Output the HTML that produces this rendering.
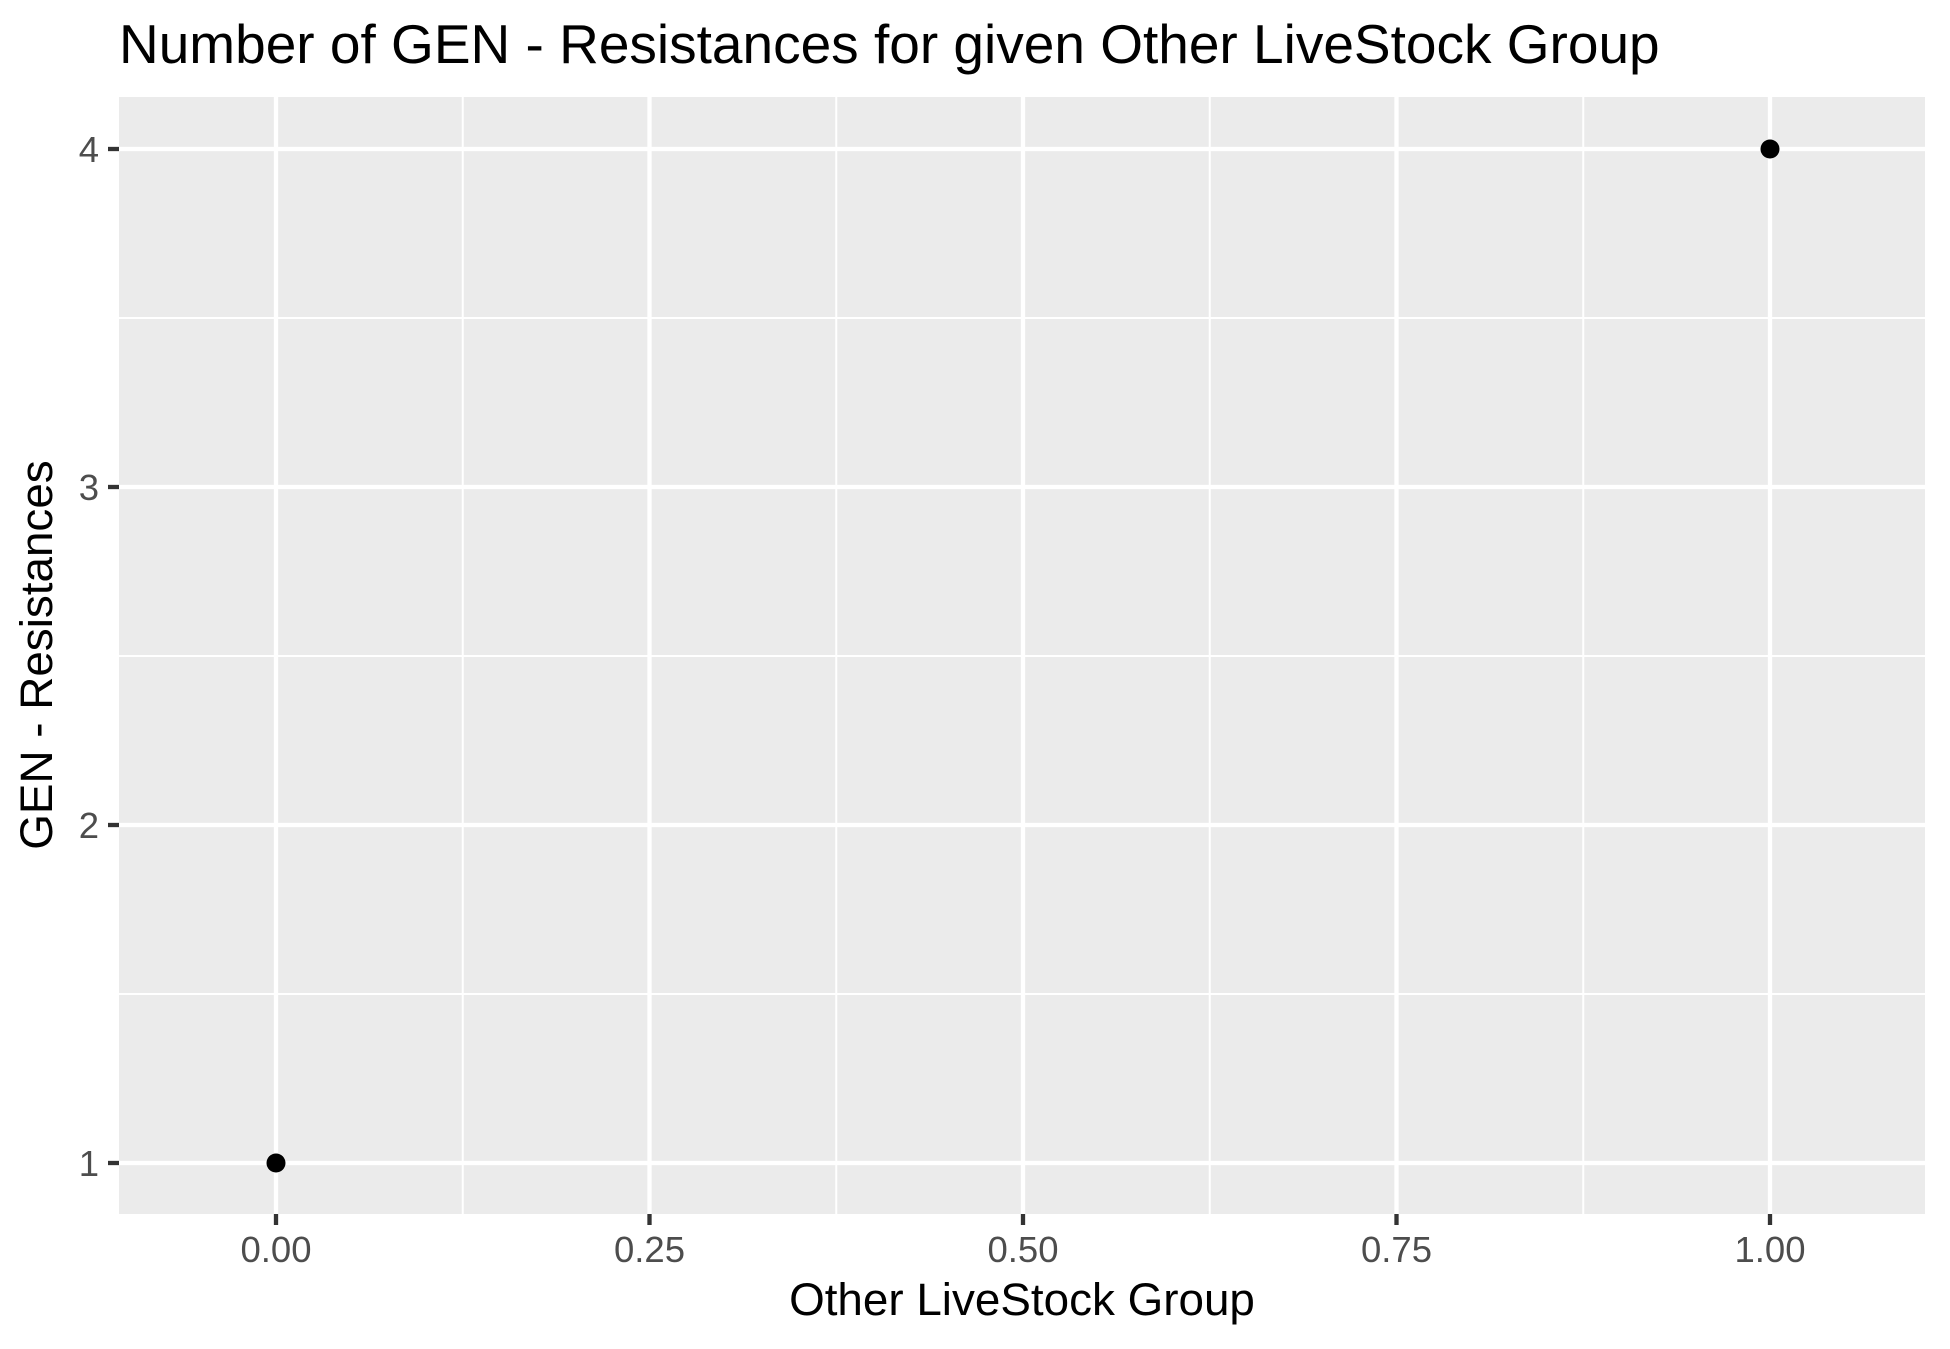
<!DOCTYPE html>
<html><head><meta charset="utf-8"><style>
html,body{margin:0;padding:0;background:#fff;}
svg{display:block;font-family:"Liberation Sans",Arial,sans-serif;}
</style></head><body>
<svg id="chart" width="1950" height="1349" viewBox="0 0 1950 1349" xmlns="http://www.w3.org/2000/svg">
<rect width="1950" height="1349" fill="#fff"/>
<text x="119" y="63" font-size="55" fill="#000">Number of GEN - Resistances for given Other LiveStock Group</text>
<rect x="119" y="97" width="1806" height="1117" fill="#EBEBEB"/>
<g id="grid"></g>
<g id="axes"></g>
<g id="points"></g>
<text x="1022" y="1315" font-size="45.8" text-anchor="middle" fill="#000">Other LiveStock Group</text>
<text transform="translate(52,655) rotate(-90)" font-size="45.8" text-anchor="middle" fill="#000">GEN - Resistances</text>
</svg>
<script>
const xValues = [0, 1];
const yValues = [1, 4];
const xTicks = [0, 0.25, 0.5, 0.75, 1];
const xTickLabels = ["0.00", "0.25", "0.50", "0.75", "1.00"];
const xMinor = [0.125, 0.375, 0.625, 0.875];
const yTicks = [1, 2, 3, 4];
const yTickLabels = ["1", "2", "3", "4"];
const yMinor = [1.5, 2.5, 3.5];

const NS = "http://www.w3.org/2000/svg";
const L = 119, R = 1925, T = 97, B = 1214;
function sx(v){ return 276 + v * 1494; }
function sy(v){ return 1163 - (v - 1) * 338; }
function mk(tag, attrs, parent){
  const e = document.createElementNS(NS, tag);
  for (const k in attrs) e.setAttribute(k, attrs[k]);
  parent.appendChild(e); return e;
}
const grid = document.getElementById('grid');
const axes = document.getElementById('axes');
const pts = document.getElementById('points');

xMinor.forEach(v => {
  const l = mk('line', {x1: sx(v), x2: sx(v), y1: T, y2: B, stroke: '#fff', 'stroke-width': 2}, grid);
  
  
});
yMinor.forEach(v => {
  const l = mk('line', {x1: L, x2: R, y1: sy(v), y2: sy(v), stroke: '#fff', 'stroke-width': 2}, grid);
  
  
});
xTicks.forEach((v, i) => {
  const l = mk('line', {x1: sx(v), x2: sx(v), y1: T, y2: B, stroke: '#fff', 'stroke-width': 4.3}, grid);
  
  
  const t = mk('line', {x1: sx(v), x2: sx(v), y1: B, y2: B + 11, stroke: '#333', 'stroke-width': 4.3}, axes);
  
  
  const tx = mk('text', {x: sx(v), y: 1262, 'font-size': 36.5, 'text-anchor': 'middle', fill: '#4D4D4D'}, axes);
  tx.textContent = xTickLabels[i];
  
  
});
yTicks.forEach((v, i) => {
  const l = mk('line', {x1: L, x2: R, y1: sy(v), y2: sy(v), stroke: '#fff', 'stroke-width': 4.3}, grid);
  
  
  const t = mk('line', {x1: L - 11, x2: L, y1: sy(v), y2: sy(v), stroke: '#333', 'stroke-width': 4.3}, axes);
  
  
  const tx = mk('text', {x: 99, y: sy(v) + 13, 'font-size': 36.5, 'text-anchor': 'end', fill: '#4D4D4D'}, axes);
  tx.textContent = yTickLabels[i];
  
  
});
xValues.forEach((v, i) => {
  const c = mk('circle', {cx: sx(v), cy: sy(yValues[i]), r: 9.5, fill: '#000'}, pts);
  
  
});
</script>
</body></html>
